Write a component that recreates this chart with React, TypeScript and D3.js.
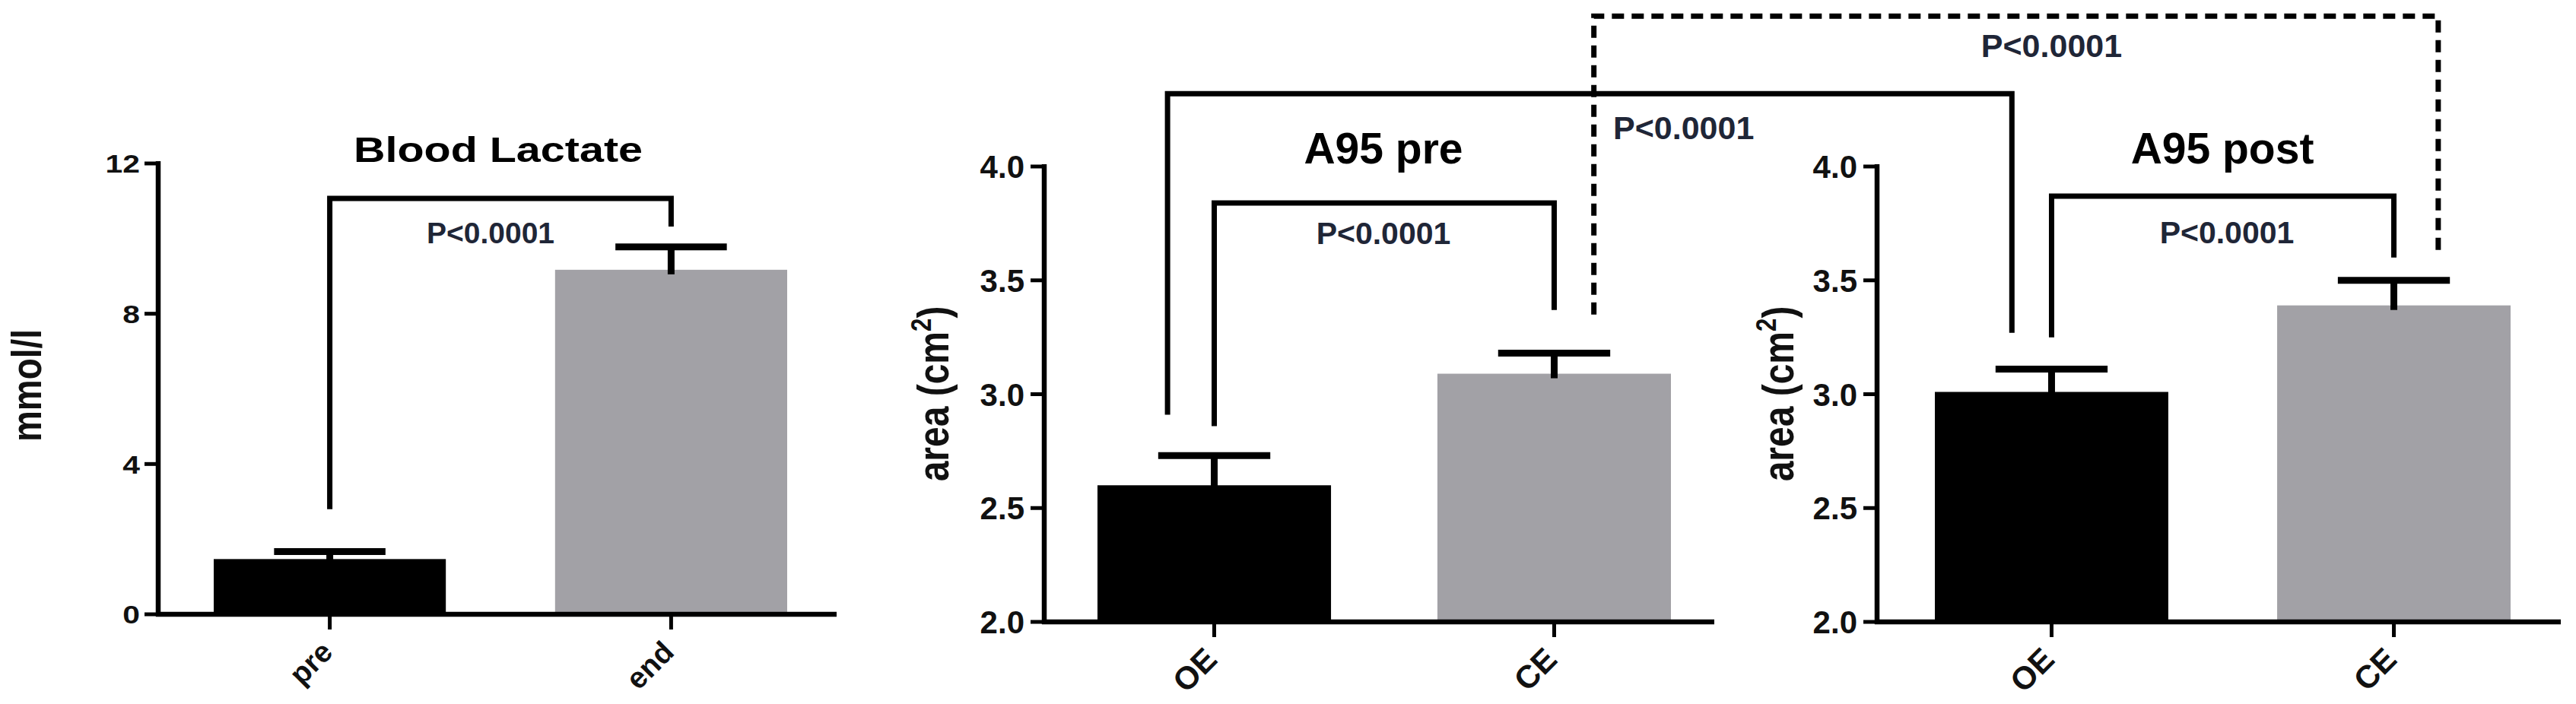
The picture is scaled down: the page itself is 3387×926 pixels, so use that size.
import React from "react";
import * as d3 from "d3";

// ---------- data ----------
const lactateCats = ["pre", "end"];
const lactateMeans = [1.47, 9.17];
const lactateSem = [0.2, 0.61];
const lactateTicks = [0, 4, 8, 12];

const a95Cats = ["OE", "CE"];
const a95PreMeans = [2.6, 3.09];
const a95PreSem = [0.13, 0.09];
const a95PostMeans = [3.01, 3.39];
const a95PostSem = [0.1, 0.11];
const areaTicks = [2.0, 2.5, 3.0, 3.5, 4.0];

const titles = ["Blood Lactate", "A95 pre", "A95 post"];
const yLabels = ["mmol/l", "area (cm", "area (cm"];
const pLabel = "P<0.0001";

// within-panel brackets (data units): top, left leg end, right leg end
const panelBrackets = [
  { top: 11.07, left: 2.8, right: 10.32 },
  { top: 3.84, left: 2.86, right: 3.37 },
  { top: 3.87, left: 3.25, right: 3.6 },
];
// cross-panel brackets (A95 pre -> A95 post)
const crossBrackets = [
  { from: "OE", to: "OE", top: 4.32, left: 2.91, right: 3.27, dashed: false },
  { from: "CE", to: "CE", top: 4.66, left: 3.35, right: 3.6, dashed: true },
];

// ---------- layout ----------
const W = 3387;
const H = 926;
const FONT = "'Liberation Sans', Arial, Helvetica, sans-serif";
const TXT = "#1f2637";
const GRAY = "#a2a1a6";

const panels = [
  {
    cats: lactateCats, means: lactateMeans, sem: lactateSem, ticks: lactateTicks,
    domain: [0, 12], axisX: 208, axisEnd: 1100, yTop: 215, yBottom: 808,
    bandRange: [281, 1035], padInner: 0.32,
    tickSize: 34, tickSx: 1.2, tickFmt: d3.format("d"), tickGap: 24,
    title: titles[0], titleX: 655, titleY: 213, titleSize: 46, titleSx: 1.25,
    yLabel: yLabels[0], yLabelX: 54, yLabelY: 507, yLabelSize: 46, yLabelSx: 1.2, sup: false,
    xLabSize: 39, pX: 645, pY: 320, pSize: 39,
  },
  {
    cats: a95Cats, means: a95PreMeans, sem: a95PreSem, ticks: areaTicks,
    domain: [2, 4], axisX: 1373, axisEnd: 2254, yTop: 219, yBottom: 818,
    bandRange: [1443, 2197], padInner: 0.313,
    tickSize: 42, tickSx: 1, tickFmt: d3.format(".1f"), tickGap: 26,
    title: titles[1], titleX: 1819, titleY: 215, titleSize: 57, titleSx: 1,
    yLabel: yLabels[1], yLabelX: 1247, yLabelY: 518, yLabelSize: 48, yLabelSx: 1.2, sup: true,
    xLabSize: 42, pX: 1819, pY: 321, pSize: 41,
  },
  {
    cats: a95Cats, means: a95PostMeans, sem: a95PostSem, ticks: areaTicks,
    domain: [2, 4], axisX: 2468, axisEnd: 3367, yTop: 219, yBottom: 818,
    bandRange: [2544, 3301], padInner: 0.318,
    tickSize: 42, tickSx: 1, tickFmt: d3.format(".1f"), tickGap: 26,
    title: titles[2], titleX: 2922, titleY: 215, titleSize: 57, titleSx: 1,
    yLabel: yLabels[2], yLabelX: 2358, yLabelY: 518, yLabelSize: 48, yLabelSx: 1.2, sup: true,
    xLabSize: 42, pX: 2928, pY: 320, pSize: 41,
  },
];

const scalesFor = (p: any) => {
  const x = d3.scaleBand<string>().domain(p.cats).range(p.bandRange).paddingInner(p.padInner).paddingOuter(0);
  const y = d3.scaleLinear().domain(p.domain).range([p.yBottom, p.yTop]);
  return { x, y };
};

const Panel = ({ p, bracket }: any) => {
  const { x, y } = scalesFor(p);
  const bw = x.bandwidth();
  const cx = (c: string) => (x(c) as number) + bw / 2;
  const base = p.domain[0];
  const capHalf = bw * 0.24;
  const bl = cx(p.cats[0]);
  const br = cx(p.cats[1]);
  return (
    <g>
      {/* bars */}
      {p.cats.map((c: string, i: number) => (
        <rect key={c} x={x(c)} y={y(p.means[i])} width={bw} height={y(base) - y(p.means[i])}
          fill={i === 0 ? "#000" : GRAY} />
      ))}
      {/* error bars */}
      {p.cats.map((c: string, i: number) => {
        const top = y(p.means[i] + p.sem[i]);
        return (
          <g key={"e" + c} stroke="#000" strokeWidth={9}>
            <line x1={cx(c)} x2={cx(c)} y1={y(p.means[i]) + 6} y2={top} />
            <line x1={cx(c) - capHalf} x2={cx(c) + capHalf} y1={top} y2={top} />
          </g>
        );
      })}
      {/* axes */}
      <line x1={p.axisX} x2={p.axisX} y1={y(p.domain[1]) - 3} y2={y(base) + 3} stroke="#000" strokeWidth={6.5} />
      <line x1={p.axisX - 3} x2={p.axisEnd} y1={y(base)} y2={y(base)} stroke="#000" strokeWidth={6.5} />
      {p.ticks.map((t: number) => (
        <g key={"t" + t}>
          <line x1={p.axisX - 18} x2={p.axisX} y1={y(t)} y2={y(t)} stroke="#000" strokeWidth={5} />
          <text transform={`translate(${p.axisX - p.tickGap},${y(t) + p.tickSize * 0.36}) scale(${p.tickSx},1)`}
            textAnchor="end" fontSize={p.tickSize} fontWeight="bold" fontFamily={FONT} fill="#111">
            {p.tickFmt(t)}
          </text>
        </g>
      ))}
      {p.cats.map((c: string) => (
        <g key={"xt" + c}>
          <line x1={cx(c)} x2={cx(c)} y1={y(base)} y2={y(base) + 20} stroke="#000" strokeWidth={5} />
          <text transform={`translate(${cx(c) + 6},${y(base) + 52}) rotate(-45)`} textAnchor="end"
            fontSize={p.xLabSize} fontWeight="bold" fontFamily={FONT} fill="#111">
            {c}
          </text>
        </g>
      ))}
      {/* title */}
      <text transform={`translate(${p.titleX},${p.titleY}) scale(${p.titleSx},1)`} textAnchor="middle"
        fontSize={p.titleSize} fontWeight="bold" fontFamily={FONT} fill="#000">
        {p.title}
      </text>
      {/* y label */}
      <text transform={`translate(${p.yLabelX},${p.yLabelY}) scale(${p.yLabelSx},1) rotate(-90)`} textAnchor="middle"
        fontSize={p.yLabelSize} fontWeight="bold" fontFamily={FONT} fill="#111">
        {p.yLabel}
        {p.sup ? <tspan fontSize={p.yLabelSize * 0.65} dy={-p.yLabelSize * 0.4}>2</tspan> : null}
        {p.sup ? <tspan dy={p.yLabelSize * 0.4}>)</tspan> : null}
      </text>
      {/* significance bracket */}
      <path d={`M${bl},${y(bracket.left)}V${y(bracket.top)}H${br}V${y(bracket.right)}`}
        fill="none" stroke="#000" strokeWidth={7} strokeLinejoin="miter" />
      <text x={p.pX} y={p.pY} textAnchor="middle" fontSize={p.pSize} fontWeight="bold" fontFamily={FONT} fill={TXT}>
        {pLabel}
      </text>
    </g>
  );
};

export default function App() {
  const s1 = scalesFor(panels[1]);
  const s2 = scalesFor(panels[2]);
  const bw1 = s1.x.bandwidth();
  const bw2 = s2.x.bandwidth();
  const legOffsets = [
    [-0.2 * bw1, -0.17 * bw2],
    [0.17 * bw1, 0.19 * bw2],
  ];
  return (
    <svg width={W} height={H} style={{ position: "absolute", left: 0, top: 0, background: "#fff" }}>
      <rect x={0} y={0} width={W} height={H} fill="#fff" />
      {panels.map((p, i) => (
        <Panel key={i} p={p} bracket={panelBrackets[i]} />
      ))}
      {crossBrackets.map((b, i) => {
        const xl = (s1.x(b.from) as number) + bw1 / 2 + legOffsets[i][0];
        const xr = (s2.x(b.to) as number) + bw2 / 2 + legOffsets[i][1];
        return (
          <path key={"cb" + i}
            d={`M${xl},${s1.y(b.left)}V${s1.y(b.top)}H${xr}V${s2.y(b.right)}`}
            fill="none" stroke="#000" strokeWidth={7}
            strokeDasharray={b.dashed ? "16 10" : undefined} />
        );
      })}
      <text x={2121} y={183} textAnchor="start" fontSize={43} fontWeight="bold" fontFamily={FONT} fill={TXT}>
        {pLabel}
      </text>
      <text x={(s2.x("OE") as number) + bw2 / 2} y={75} textAnchor="middle" fontSize={43} fontWeight="bold" fontFamily={FONT} fill={TXT}>
        {pLabel}
      </text>
    </svg>
  );
}
